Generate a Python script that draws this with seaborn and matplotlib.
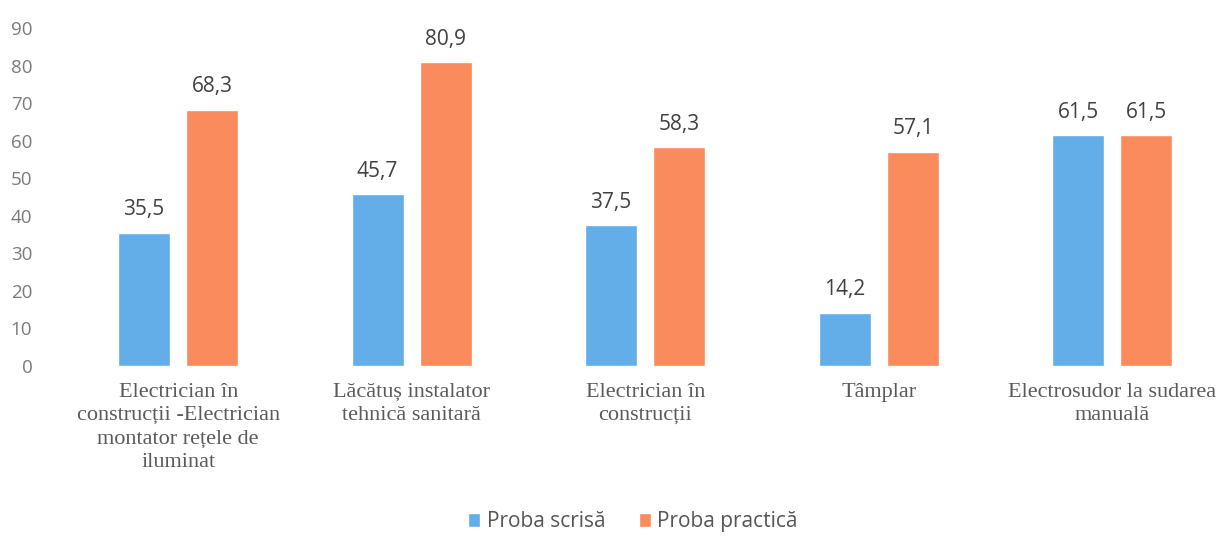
import matplotlib
matplotlib.use("Agg")
import matplotlib.pyplot as plt
import seaborn as sns
import pandas as pd

# Data
categories = [
    "Electrician în\nconstrucții -Electrician\nmontator rețele de\niluminat",
    "Lăcătuș instalator\ntehnică sanitară",
    "Electrician în\nconstrucții",
    "Tâmplar",
    "Electrosudor la sudarea\nmanuală",
]
series_names = ["Proba scrisă", "Proba practică"]
proba_scrisa = [35.5, 45.7, 37.5, 14.2, 61.5]
proba_practica = [68.3, 80.9, 58.3, 57.1, 61.5]
y_ticks = [0, 10, 20, 30, 40, 50, 60, 70, 80, 90]

colors = ["#63ADE8", "#F98B5C"]

df = pd.DataFrame({
    "categorie": categories * 2,
    "proba": [series_names[0]] * len(categories) + [series_names[1]] * len(categories),
    "valoare": proba_scrisa + proba_practica,
})

sns.set_style("white")
plt.rcParams["font.family"] = ["Open Sans", "DejaVu Sans"]

fig = plt.figure(figsize=(12.29, 5.42), dpi=100)
ax = fig.add_axes([0.05, 0.325, 0.95, 0.623])

sns.barplot(
    data=df, x="categorie", y="valoare", hue="proba",
    palette=colors, width=0.584, gap=0.236, ax=ax, legend=True,
    saturation=1,
)

for container in ax.containers:
    labels = [f"{v:.1f}".replace(".", ",") for v in container.datavalues]
    ax.bar_label(container, labels=labels, padding=9, fontsize=15, color="#404040")

ax.set_ylim(0, 90)
ax.set_yticks(y_ticks)
ax.set_xlim(-0.5, len(categories) - 0.5)
ax.set_xlabel("")
ax.set_ylabel("")
ax.tick_params(axis="y", length=0, pad=21, labelsize=13.5, labelcolor="#7a7a7a")
ax.tick_params(axis="x", length=0, pad=12)
for lbl in ax.get_xticklabels():
    lbl.set_fontfamily("Liberation Serif")
    lbl.set_fontsize(16)
    lbl.set_color("#5a5a5a")
    lbl.set_linespacing(1.32)
sns.despine(ax=ax, left=True, bottom=True)

handles, texts = ax.get_legend_handles_labels()
ax.legend_.remove()
fig.legend(
    handles, texts, loc="center", bbox_to_anchor=(0.515, 0.037), ncol=2,
    frameon=False, fontsize=15, handlelength=0.6, handleheight=0.6,
    handletextpad=0.3, columnspacing=1.6, labelcolor="#555555",
)

fig.savefig("out.png", dpi=100)
